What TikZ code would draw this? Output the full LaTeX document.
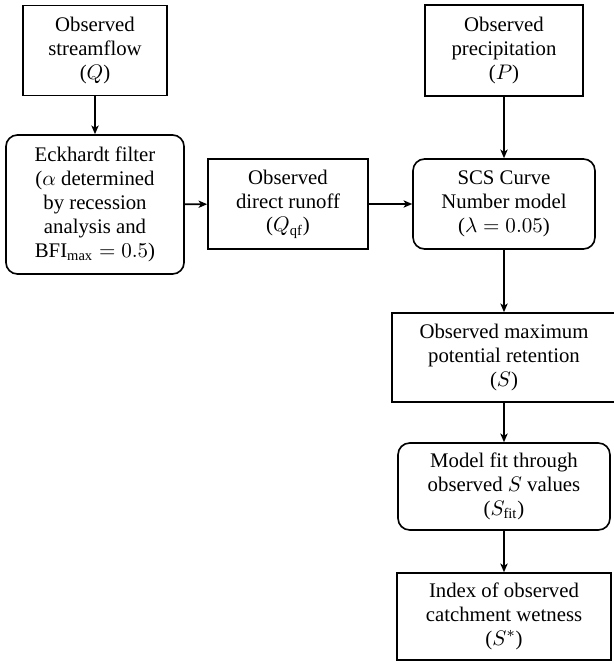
\documentclass[tikz,border=0pt]{standalone}
\usepackage{fontspec}
\setmainfont{Liberation Serif}
\usetikzlibrary{arrows.meta}
\tikzset{
  sqbox/.style={draw, line width=0.85pt, align=center, inner sep=2pt, font=\fontsize{10.8}{12.4}\selectfont},
  rbox/.style={sqbox, rounded corners=6pt},
  flow/.style={line width=0.85pt, -{Stealth[length=4.5pt,width=3.8pt,inset=1.2pt]}}
}
\begin{document}
\begin{tikzpicture}[x=0.52pt,y=-0.52pt]
\useasboundingbox (0,0) rectangle (613,664);
\node[sqbox, minimum width=74.9pt, minimum height=46.8pt] (Q) at (95,50.5) {Observed\\streamflow\\($Q$)};
\node[rbox, minimum width=92.6pt, minimum height=72.3pt] (E) at (95,204.5) {Eckhardt filter\\($\alpha$ determined\\by recession\\analysis and\\BFI$_{\mathrm{max}}=0.5$)};
\node[sqbox, minimum width=83.2pt, minimum height=46.8pt] (R) at (288,204) {Observed\\direct runoff\\($Q_{\mathrm{qf}}$)};
\node[sqbox, minimum width=82.2pt, minimum height=47.3pt] (P) at (504,50.5) {Observed\\precipitation\\($P$)};
\node[rbox, minimum width=94.6pt, minimum height=46.8pt] (C) at (504,204) {SCS Curve\\Number model\\($\lambda=0.05$)};
\node[sqbox, minimum width=116.5pt, minimum height=46.3pt] (S) at (504,357.5) {Observed maximum\\potential retention\\($S$)};
\node[rbox, minimum width=110.2pt, minimum height=45.2pt] (F) at (504,486.5) {Model fit through\\observed $S$ values\\($S_{\mathrm{fit}}$)};
\node[sqbox, minimum width=111.3pt, minimum height=45.2pt] (I) at (504,616.5) {Index of observed\\catchment wetness\\($S^{*}$)};
\draw[flow] (Q) -- (E);
\draw[flow] (E) -- (R);
\draw[flow] (R) -- (C);
\draw[flow] (P) -- (C);
\draw[flow] (C) -- (S);
\draw[flow] (S) -- (F);
\draw[flow] (F) -- (I);
\end{tikzpicture}
\end{document}
